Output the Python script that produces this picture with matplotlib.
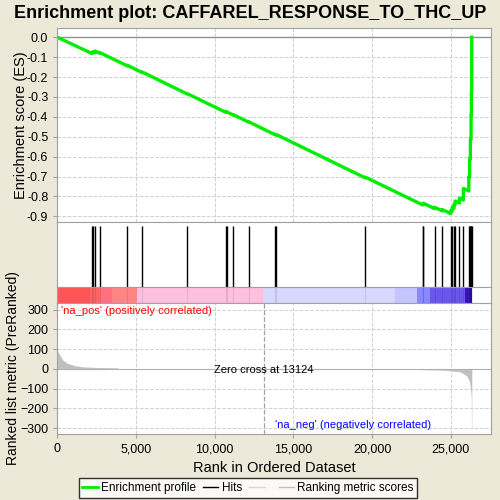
import matplotlib
matplotlib.use('Agg')
import matplotlib.pyplot as plt
from matplotlib.lines import Line2D

plt.rcParams['font.family'] = ['Liberation Sans', 'DejaVu Sans']

# --- data ---
n_genes = 26330
zero_cross = 13124

hit_ranks = [2185, 2250, 2395, 2730, 4450, 5400, 8220, 10720, 10760, 11180,
             12160, 13810, 13910, 19570, 23215, 23250, 23980, 24460, 24990,
             25080, 25200, 25270, 25540, 25795, 26140, 26190, 26240, 26285,
             26305, 26325]

# running enrichment score vertices (rank, ES)
es_ranks = [0, 2185, 2185, 2250, 2250, 2395, 2395, 2730, 2730, 4450, 4450,
            5400, 5400, 8220, 8220, 10720, 10720, 10760, 10760, 11180, 11180,
            12160, 12160, 13810, 13810, 13910, 13910, 19570, 19570, 23215,
            23215, 23250, 23250, 23980, 23980, 24460, 24460, 24990, 24990,
            25080, 25080, 25200, 25200, 25270, 25270, 25540, 25540, 25795,
            25795, 26140, 26140, 26190, 26190, 26240, 26240, 26285, 26285,
            26305, 26305, 26325, 26325]
es_vals = [0.0, -0.081, -0.077, -0.079, -0.073, -0.078, -0.069, -0.081, -0.078,
           -0.144, -0.141, -0.178, -0.175, -0.284, -0.282, -0.378, -0.376,
           -0.378, -0.375, -0.391, -0.389, -0.427, -0.425, -0.489, -0.487,
           -0.491, -0.489, -0.707, -0.703, -0.843, -0.838, -0.839, -0.834,
           -0.862, -0.855, -0.873, -0.866, -0.886, -0.872, -0.875, -0.855,
           -0.860, -0.840, -0.843, -0.823, -0.833, -0.808, -0.818, -0.760,
           -0.773, -0.700, -0.702, -0.610, -0.612, -0.510, -0.512, -0.390,
           -0.391, -0.270, -0.271, 0.0]

# ranked list metric (rank, value)
metric_ranks = [0, 50, 170, 360, 620, 1120, 1630, 2500, 3860, 3870, 13124,
                22600, 22610, 24630, 25580, 26000, 26170, 26250, 26300,
                26310, 26330]
metric_vals = [100, 85, 70, 44, 29, 16, 10, 7, 5, 1.5, 0,
               -1, -3, -7, -15, -35, -60, -100, -150, -300, -300]

# colour band segments (start rank, end rank, colour)
band_edges = [0, 2080, 2710, 3460, 5040, 13090, 21450, 22850, 23680, 25900, 26330]
band_colors = ['#ff5555', '#ff6464', '#ff7080', '#ff8585', '#ffc0e0',
               '#d8d8ff', '#c4c4ff', '#8888ff', '#6a55ee', '#3a10b8']

# --- figure ---
fig = plt.figure(figsize=(5, 5), dpi=100, facecolor='#ece9d8')
left, width = 0.1146, 0.8674
ax_es = fig.add_axes([left, 0.5554, width, 0.388])
ax_hits = fig.add_axes([left, 0.4266, width, 0.1288])
ax_band = fig.add_axes([left, 0.3946, width, 0.032])
ax_m = fig.add_axes([left, 0.132, width, 0.2626])

xmax = 27550
grid_kw = dict(color='#d0d0d0', linestyle='--', linewidth=0.7)
for ax in (ax_es, ax_hits, ax_band, ax_m):
    ax.set_xlim(0, xmax)
    for sp in ax.spines.values():
        sp.set_color('#a0a0a0')
    ax.tick_params(colors='black', labelsize=9, length=3, color='#a0a0a0')

# enrichment profile
ax_es.axhline(0, color='#909090', linewidth=1)
ax_es.plot(es_ranks, es_vals, color='#00ee00', linewidth=2.4)
ax_es.set_ylim(-0.93, 0.045)
ax_es.set_yticks([0.0, -0.1, -0.2, -0.3, -0.4, -0.5, -0.6, -0.7, -0.8, -0.9])
ax_es.set_yticklabels(['0.0', '-0.1', '-0.2', '-0.3', '-0.4', '-0.5', '-0.6',
                       '-0.7', '-0.8', '-0.9'])
ax_es.set_xticks([0, 5000, 10000, 15000, 20000, 25000])
ax_es.tick_params(axis='x', labelbottom=False, length=0)
ax_es.grid(True, **grid_kw)
ax_es.set_ylabel('Enrichment score (ES)', fontsize=10.5)
ax_es.yaxis.set_label_coords(-0.068, 0.5)
fig.text(0.5, 0.973, 'Enrichment plot: CAFFAREL_RESPONSE_TO_THC_UP',
         fontsize=13, fontweight='bold', ha='center', va='center')

# hits
ax_hits.vlines(hit_ranks, 0, 0.95, color='black', linewidth=1)
ax_hits.set_ylim(0, 1)
ax_hits.set_xticks([])
ax_hits.set_yticks([])

# colour band
for i, c in enumerate(band_colors):
    ax_band.axvspan(band_edges[i], band_edges[i + 1], color=c, linewidth=0)
ax_band.vlines(hit_ranks, 0, 1, color='black', linewidth=0.6, alpha=0.12)
ax_band.set_ylim(0, 1)
ax_band.set_xticks([])
ax_band.set_yticks([])

# ranked list metric
ax_m.fill_between(metric_ranks, metric_vals, 0, color='#c0c0c0', linewidth=0)
ax_m.axhline(0, color='#b0b0b0', linewidth=0.8)
ax_m.axvline(zero_cross, color='#a0a0a0', linestyle='--', linewidth=0.9)
ax_m.set_ylim(-330, 335)
ax_m.set_yticks([300, 200, 100, 0, -100, -200, -300])
ax_m.set_xticks([0, 5000, 10000, 15000, 20000, 25000])
ax_m.set_xticklabels(['0', '5,000', '10,000', '15,000', '20,000', '25,000'])
ax_m.grid(True, **grid_kw)
ax_m.set_axisbelow(True)
ax_m.set_ylabel('Ranked list metric (PreRanked)', fontsize=10)
ax_m.yaxis.set_label_coords(-0.086, 0.5)
ax_m.set_xlabel('Rank in Ordered Dataset', fontsize=10.5)
ax_m.text(250, 295, "'na_pos' (positively correlated)", color='red',
          fontsize=8, va='center', ha='left')
ax_m.text(zero_cross + 700, -285, "'na_neg' (negatively correlated)",
          color='blue', fontsize=8, va='center', ha='left')
ax_m.text(zero_cross, -5, 'Zero cross at 13124', color='black',
          fontsize=8, va='center', ha='center')

handles = [Line2D([], [], color='#00ee00', linewidth=2),
           Line2D([], [], color='black', linewidth=1),
           Line2D([], [], color='#d8d8d8', linewidth=1),
           Line2D([], [], color='#c0c0c0', linewidth=1)]
labels = ['Enrichment profile', 'Hits', ' ', 'Ranking metric scores']
leg = fig.legend(handles, labels, loc='center', bbox_to_anchor=(0.496, 0.024),
                 ncol=4, fontsize=8.5, frameon=True, fancybox=False,
                 handlelength=1.3, handletextpad=0.3, columnspacing=0.6,
                 borderpad=0.3)
leg.get_frame().set_edgecolor('black')
leg.get_frame().set_facecolor('white')

fig.savefig('out.png', dpi=100, facecolor=fig.get_facecolor())
